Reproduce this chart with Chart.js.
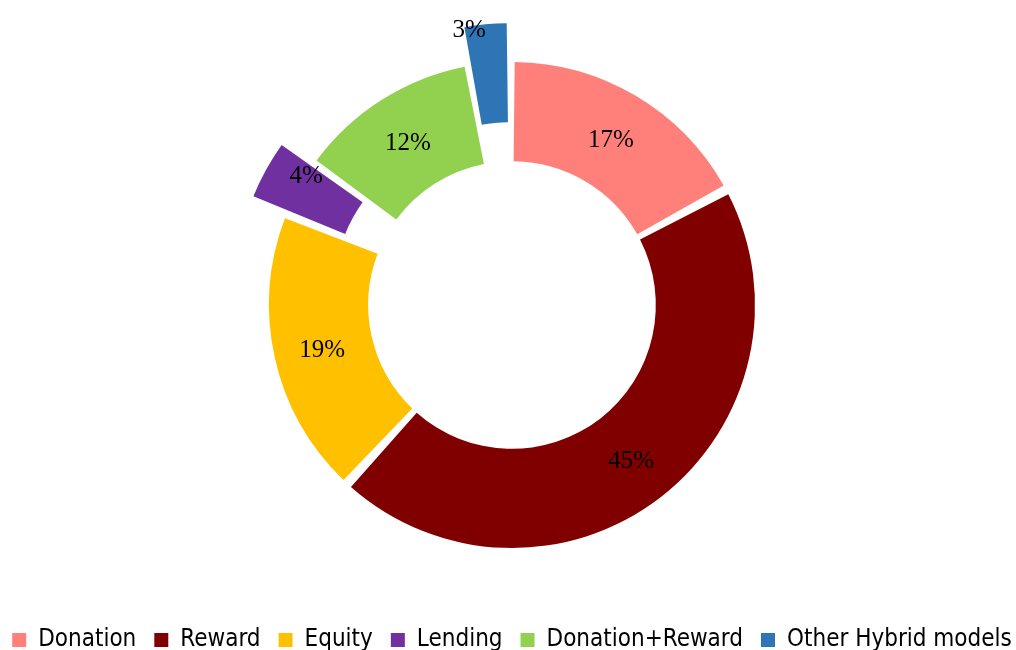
<!DOCTYPE html>
<html>
<head>
<meta charset="utf-8">
<script src="https://cdn.jsdelivr.net/npm/chart.js@4.4.1/dist/chart.umd.min.js"></script>
<style>
html,body{margin:0;padding:0;background:#fff;overflow:hidden;}
#wrap{width:1016px;height:650px;position:relative;overflow:hidden;}
#c{position:absolute;left:0;top:0;}
</style>
</head>
<body>
<div id="wrap"><canvas id="c" width="1024" height="650"></canvas></div>
<script>
const categories = ["Donation", "Reward", "Equity", "Lending", "Donation+Reward", "Other Hybrid models"];
const shares = [17, 45, 19, 4, 12, 3];
const colors = ["#FF7F7B", "#800000", "#FFC000", "#7030A0", "#92D050", "#2E75B6"];
const explode = [0, 0, 0, 86, 0, 86];

const labelPlugin = {
  id: 'sliceLabels',
  afterDatasetsDraw(chart) {
    const ctx = chart.ctx;
    const meta = chart.getDatasetMeta(0);
    ctx.save();
    ctx.font = '25px "Liberation Serif", "Times New Roman", serif';
    ctx.fillStyle = '#000';
    ctx.textBaseline = 'middle';
    meta.data.forEach((arc, i) => {
      const p = arc.getProps(['x','y','startAngle','endAngle','innerRadius','outerRadius']);
      const off = (arc.options.offset || 0) * 0.44;
      let a = (p.startAngle + p.endAngle) / 2;
      let r = (p.innerRadius + p.outerRadius) / 2 + off + 5;
      let dy = 3;
      const txt = shares[i] + '%';
      let align = 'center';
      if (shares[i] < 4) { r = p.outerRadius + off + 2; align = 'right'; }
      else if (off) { r += 8; a += 0.04; dy = -4; }
      ctx.textAlign = align;
      ctx.fillText(txt, p.x + Math.cos(a) * r, p.y + Math.sin(a) * r + dy);
    });
    ctx.restore();
  }
};

new Chart(document.getElementById('c'), {
  type: 'doughnut',
  data: {
    labels: categories,
    datasets: [{
      data: shares,
      backgroundColor: colors,
      borderWidth: 0,
      offset: explode,
      spacing: 8,
      hoverOffset: 0
    }]
  },
  options: {
    responsive: false,
    animation: false,
    radius: 239,
    cutout: '58.5%',
    layout: { padding: { top: 0, left: -20, bottom: -12, right: -20 } },
    plugins: {
      tooltip: { enabled: false },
      legend: {
        position: 'bottom',
        labels: {
          boxWidth: 14,
          boxHeight: 14,
          padding: 18,
          color: '#000',
          font: { family: '"Liberation Sans Narrow", "DejaVu Sans Condensed", sans-serif', size: 24 }
        }
      }
    }
  },
  plugins: [labelPlugin]
});
</script>
</body>
</html>
